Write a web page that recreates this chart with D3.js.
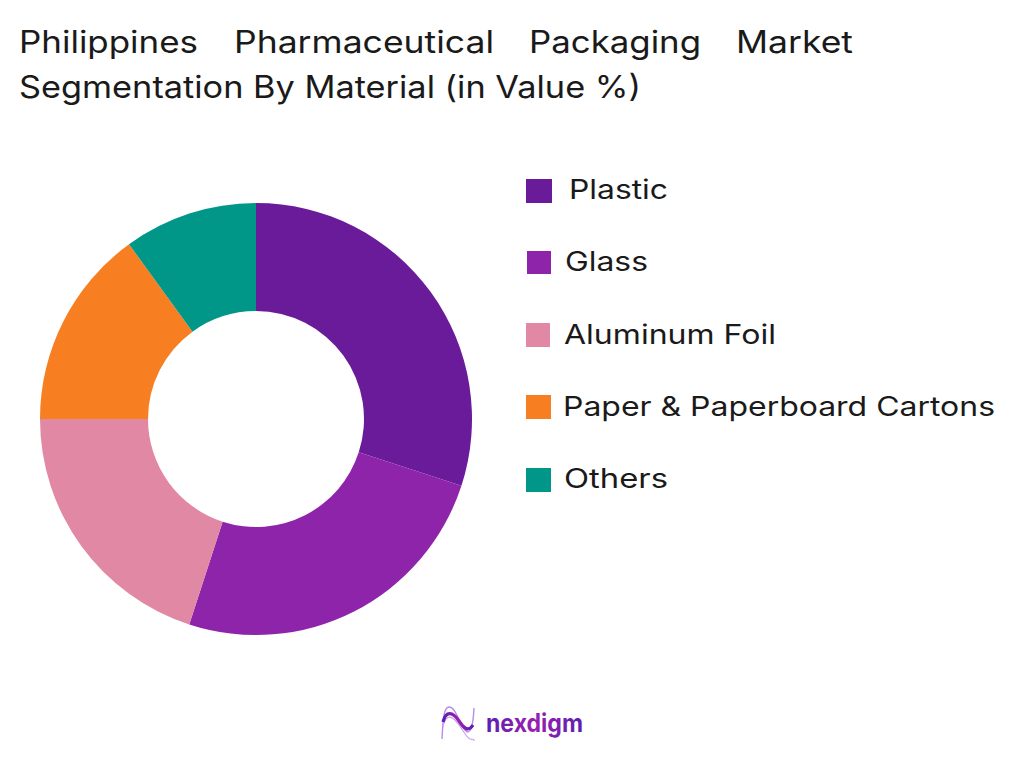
<!DOCTYPE html>
<html>
<head>
<meta charset="utf-8">
<script src="https://cdn.jsdelivr.net/npm/d3@7"></script>
<style>
  html, body { margin: 0; padding: 0; background: #fff; }
  svg { display: block; }
  text { font-family: "Inter", "Open Sans", sans-serif; fill: #1a1a1a; }
</style>
</head>
<body>
<svg id="chart" width="1024" height="768"></svg>
<script>
const categories = ["Plastic", "Glass", "Aluminum Foil", "Paper & Paperboard Cartons", "Others"];
const shares = [30, 25, 20, 15, 10];
const colors = ["#6a1b9a", "#8e24aa", "#e088a4", "#f77f22", "#009688"];
const titleWords = ["Philippines", "Pharmaceutical", "Packaging", "Market"];
const titleLine2 = "Segmentation By Material (in Value %)";

// layout
const titleWordBox = [[19, 179], [234, 260], [529, 172], [736, 117]];
const legendBox = [[526, 179, 26, 24], [527, 251, 24, 23], [526, 323, 24, 24], [526, 395, 25, 24], [526, 468, 25, 24]];
const legendText = [[569, 99], [565, 83], [564, 212], [563, 432], [564, 104]];

const svg = d3.select("#chart");

// title
svg.append("g").selectAll("text").data(titleWords).enter().append("text")
  .attr("x", (d, i) => titleWordBox[i][0]).attr("y", 53)
  .attr("font-size", 31)
  .attr("textLength", (d, i) => titleWordBox[i][1]).attr("lengthAdjust", "spacingAndGlyphs")
  .text(d => d);
svg.append("text").attr("x", 19).attr("y", 98).attr("font-size", 31)
  .attr("textLength", 622).attr("lengthAdjust", "spacingAndGlyphs")
  .text(titleLine2);

// donut
const pie = d3.pie().sort(null).value(d => d);
const arc = d3.arc().innerRadius(108).outerRadius(216);
svg.append("g").attr("transform", "translate(256,419)")
  .selectAll("path")
  .data(pie(shares))
  .enter()
  .append("path")
  .attr("d", arc)
  .attr("fill", (d, i) => colors[i]);

// legend
const legendY = d3.scalePoint().domain(categories).range([199, 488]);
const legend = svg.append("g").selectAll("g").data(categories).enter().append("g");
legend.append("rect")
  .attr("x", (d, i) => legendBox[i][0]).attr("y", (d, i) => legendBox[i][1])
  .attr("width", (d, i) => legendBox[i][2]).attr("height", (d, i) => legendBox[i][3])
  .attr("fill", (d, i) => colors[i]);
legend.append("text")
  .attr("x", (d, i) => legendText[i][0]).attr("y", d => legendY(d))
  .attr("font-size", 27)
  .attr("textLength", (d, i) => legendText[i][1]).attr("lengthAdjust", "spacingAndGlyphs")
  .text(d => d);

// logo
const defs = svg.append("defs");
const grad = defs.append("linearGradient").attr("id", "logoGrad");
grad.append("stop").attr("offset", "0%").attr("stop-color", "#5b1fb0");
grad.append("stop").attr("offset", "50%").attr("stop-color", "#9a20b0");
grad.append("stop").attr("offset", "100%").attr("stop-color", "#5b1fb0");
const logo = svg.append("g").attr("fill", "none");
logo.append("path")
  .attr("d", "M442,739 C443,718 444,707 449,707 C456,707 458,722 465,730 C470,736 473,728 474,708")
  .attr("stroke", "#b98ae6").attr("stroke-width", 1.4);
logo.append("path")
  .attr("d", "M443,727 C445,716 450,715 455,720 C462,727 466,738 470,739 C473,740 474,738 474,741")
  .attr("stroke", "#c9a4ec").attr("stroke-width", 1.2);
logo.append("path")
  .attr("d", "M443,722 C446,710 453,712 459,721 C463,727 468,733 473,725")
  .attr("stroke", "url(#logoGrad)").attr("stroke-width", 3.2);
logo.append("text").attr("x", 486).attr("y", 732).attr("font-size", 25)
  .attr("font-weight", 700).attr("textLength", 97).attr("lengthAdjust", "spacingAndGlyphs")
  .attr("stroke", "none").style("fill", "url(#logoGrad)").text("nexdigm");
</script>
</body>
</html>
